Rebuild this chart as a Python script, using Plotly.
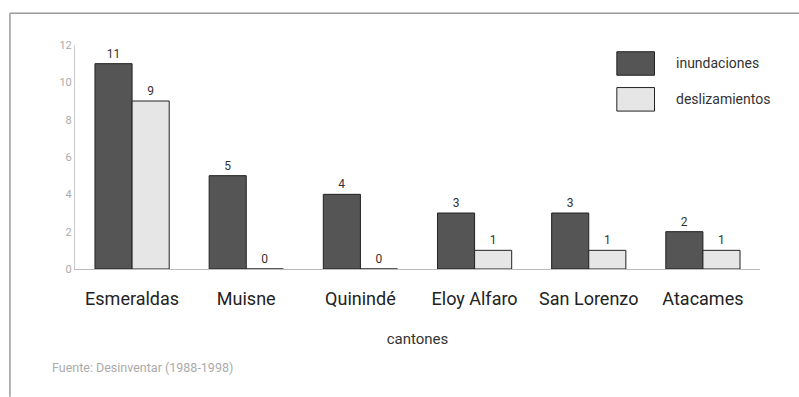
import plotly.graph_objects as go

cantones = ["Esmeraldas", "Muisne", "Quinindé", "Eloy Alfaro", "San Lorenzo", "Atacames"]
inundaciones = [11, 5, 4, 3, 3, 2]
deslizamientos = [9, 0, 0, 1, 1, 1]
y_ticks = [0, 2, 4, 6, 8, 10, 12]
serie_nombres = ["inundaciones", "deslizamientos"]
serie_colores = ["#555555", "#e6e6e6"]
fuente = "Fuente: Desinventar (1988-1998)"

fig = go.Figure()
for nombre, valores, color in zip(serie_nombres, [inundaciones, deslizamientos], serie_colores):
    fig.add_trace(go.Bar(
        x=cantones, y=valores, name=nombre,
        marker=dict(color=color, line=dict(color="#222222", width=1)),
        text=valores, textposition="outside", cliponaxis=False,
        textfont=dict(family="Roboto", size=12, color="#333333"),
        outsidetextfont=dict(family="Roboto", size=12, color="#333333"),
        showlegend=False,
    ))

# legend drawn as large swatches at the upper right
for i, (nombre, color) in enumerate(zip(serie_nombres, serie_colores)):
    y0 = 0.97 - i * 0.16
    fig.add_shape(type="rect", xref="paper", yref="paper",
                  x0=0.791, x1=0.846, y0=y0 - 0.105, y1=y0,
                  fillcolor=color, line=dict(color="#222222", width=1))
    fig.add_annotation(xref="paper", yref="paper", x=0.875, y=y0 - 0.0525,
                       text=nombre, showarrow=False, xanchor="left", yanchor="middle",
                       font=dict(family="Roboto", size=14, color="#333333"))

# frame lines around the figure
fig.add_shape(type="line", xref="paper", yref="paper", x0=-0.095, x1=1.06, y0=1.142, y1=1.142,
              line=dict(color="#9a9a9a", width=1.5))
fig.add_shape(type="line", xref="paper", yref="paper", x0=-0.095, x1=-0.095, y0=1.142, y1=-0.57,
              line=dict(color="#9a9a9a", width=1.5))

fig.add_annotation(xref="paper", yref="paper", x=-0.037, y=-0.44, text=fuente,
                   showarrow=False, xanchor="left", yanchor="middle",
                   font=dict(family="Roboto", size=12.5, color="#aaaaaa"))

fig.update_layout(
    width=799, height=397,
    margin=dict(l=75, r=39, t=45, b=128),
    paper_bgcolor="white", plot_bgcolor="white",
    barmode="group", bargap=0.35, bargroupgap=0.0,
    xaxis=dict(
        title=dict(text="cantones", font=dict(family="Roboto", size=15, color="#333333"), standoff=25),
        tickfont=dict(family="Roboto", size=18, color="#222222"),
        ticklabelstandoff=13,
        showline=True, linecolor="#bbbbbb", linewidth=1,
        ticks="", showgrid=False,
    ),
    yaxis=dict(
        range=[0, 12], tickvals=y_ticks,
        tickfont=dict(family="Roboto", size=11, color="#aaaaaa"),
        showline=True, linecolor="#cccccc", linewidth=1,
        showgrid=False, zeroline=False, ticks="", ticklen=0,
    ),
)

fig.write_html("out.html")
